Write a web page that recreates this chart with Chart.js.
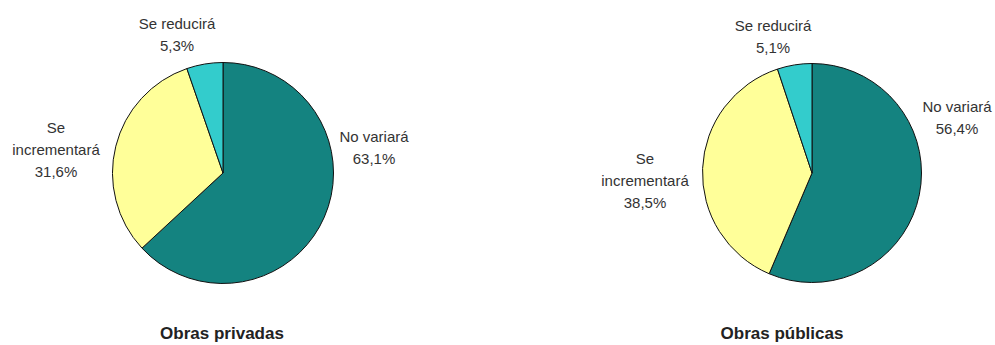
<!DOCTYPE html>
<html lang="es">
<head>
    <meta charset="UTF-8">
    <title>Obras privadas / Obras públicas</title>
    <script src="https://cdn.jsdelivr.net/npm/chart.js"></script>
    <style>
        html, body { margin: 0; padding: 0; background: #fff; }
        body { width: 995px; height: 345px; position: relative; overflow: hidden;
               font-family: "Liberation Sans", Arial, sans-serif; }
        .pie { position: absolute; }
        .lbl { position: absolute; transform: translateX(-50%); text-align: center;
               font-size: 15px; line-height: 22px; color: #333; white-space: nowrap; }
        .title { position: absolute; transform: translateX(-50%); font-size: 17px;
                 font-weight: bold; color: #222; white-space: nowrap; }
    </style>
</head>
<body>
    <div class="pie" style="left:112px; top:62px; width:222px; height:222px;"><canvas id="privadas"></canvas></div>
    <div class="pie" style="left:702px; top:63px; width:220px; height:220px;"><canvas id="publicas"></canvas></div>
    <div id="labels"></div>

    <script>
        const categories = ["No variará", "Se incrementará", "Se reducirá"];
        const privadasValues = [63.1, 31.6, 5.3];
        const publicasValues = [56.4, 38.5, 5.1];
        const chartTitles = ["Obras privadas", "Obras públicas"];

        const sliceColors = ["#148380", "#FFFF99", "#33CCCC"];

        // where each label block sits (center x, top y)
        const labelPos = [
            [[374, 126], [56, 117], [177, 13]],
            [[957, 96], [645, 148], [773, 15]]
        ];
        const titlePos = [[222, 324], [782, 324]];

        function fmt(v) {
            return v.toFixed(1).replace(".", ",") + "%";
        }

        function makePie(id, values) {
            const ctx = document.getElementById(id).getContext("2d");
            return new Chart(ctx, {
                type: "pie",
                data: {
                    labels: categories,
                    datasets: [{
                        data: values,
                        backgroundColor: sliceColors,
                        borderColor: "#111",
                        borderWidth: 1
                    }]
                },
                options: {
                    responsive: true,
                    maintainAspectRatio: false,
                    animation: false,
                    layout: { padding: 0 },
                    plugins: {
                        legend: { display: false },
                        tooltip: { enabled: false }
                    }
                }
            });
        }

        makePie("privadas", privadasValues);
        makePie("publicas", publicasValues);

        const holder = document.getElementById("labels");
        [privadasValues, publicasValues].forEach((vals, c) => {
            vals.forEach((v, i) => {
                const d = document.createElement("div");
                d.className = "lbl";
                d.style.left = labelPos[c][i][0] + "px";
                d.style.top = labelPos[c][i][1] + "px";
                const name = categories[i] === "Se incrementará" ? "Se<br>incrementará" : categories[i];
                d.innerHTML = name + "<br>" + fmt(v);
                holder.appendChild(d);
            });
            const t = document.createElement("div");
            t.className = "title";
            t.style.left = titlePos[c][0] + "px";
            t.style.top = titlePos[c][1] + "px";
            t.textContent = chartTitles[c];
            holder.appendChild(t);
        });
    </script>
</body>
</html>
